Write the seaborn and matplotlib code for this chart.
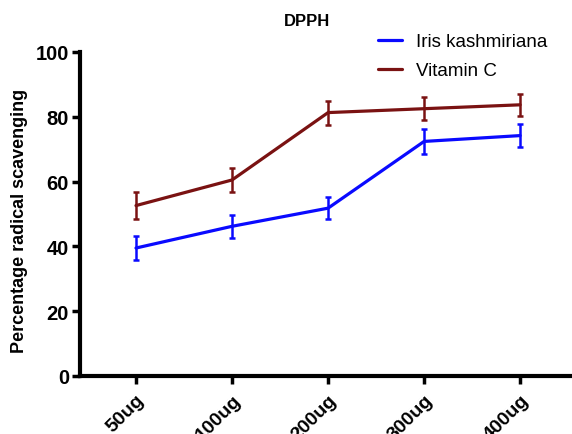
import matplotlib
matplotlib.use("Agg")
import matplotlib.pyplot as plt
import seaborn as sns
import pandas as pd
import numpy as np

categories = ["50ug", "100ug", "200ug", "300ug", "400ug"]
iris = [39.5, 46.2, 51.8, 72.4, 74.2]
iris_err = [3.7, 3.5, 3.3, 3.9, 3.6]
vitc = [52.6, 60.5, 81.3, 82.5, 83.7]
vitc_err = [4.1, 3.6, 3.7, 3.5, 3.3]

sns.set_style("ticks")
plt.rcParams['font.family'] = ['Liberation Sans', 'DejaVu Sans']
plt.rcParams.update({"text.color": "black", "axes.labelcolor": "black",
                     "xtick.color": "black", "ytick.color": "black"})

df = pd.DataFrame({
    "dose": list(range(len(categories))) * 2,
    "value": iris + vitc,
    "series": ["Iris kashmiriana"] * len(categories) + ["Vitamin C"] * len(categories),
})
colors = {"Iris kashmiriana": "#0a0aff", "Vitamin C": "#7a1212"}

fig = plt.figure(figsize=(5.72, 4.35), dpi=100)
ax = fig.add_axes([80/572, 1-377/435, 492/572, 324/435])

sns.lineplot(data=df, x="dose", y="value", hue="series", palette=colors,
             linewidth=2.3, ax=ax, legend=True)
x = np.arange(len(categories))
ax.errorbar(x, iris, yerr=iris_err, fmt="none", ecolor=colors["Iris kashmiriana"],
            elinewidth=1.8, capsize=2.5, capthick=1.8)
ax.errorbar(x, vitc, yerr=vitc_err, fmt="none", ecolor=colors["Vitamin C"],
            elinewidth=1.8, capsize=2.5, capthick=1.8)

ax.set_xlim(-0.583, 4.54)
ax.set_ylim(0, 100)
ax.set_yticks([0, 20, 40, 60, 80, 100])
ax.set_xticks(x)
ax.set_xticklabels(categories, rotation=45, ha="right", va="top", rotation_mode="anchor",
                   fontsize=14, fontweight="bold")
for lab in ax.get_yticklabels():
    lab.set_fontweight("bold")
    lab.set_fontsize(14.5)
ax.tick_params(axis="both", width=2.5, length=6, direction="out", color="black")
ax.tick_params(axis="x", pad=5)
ax.tick_params(axis="y", pad=2)
ax.set_xlabel("")
ax.set_ylabel("Percentage radical scavenging", fontsize=13, fontweight="bold")
ax.yaxis.set_label_coords((28 - 80) / 492, (377 - 221) / 324)
sns.despine(ax=ax)
for sp in ["left", "bottom"]:
    ax.spines[sp].set_linewidth(3)
    ax.spines[sp].set_color("black")

fig.text(307/572, 1-22/435, "DPPH", ha="center", va="center", fontsize=12, fontweight="bold")

leg = ax.legend(loc="upper left", bbox_to_anchor=((378 - 80) / 492, (377 - 34) / 324),
                frameon=False, fontsize=13.5, handlelength=1.3, handletextpad=0.7,
                labelspacing=0.65, borderpad=0, borderaxespad=0)
for line in leg.get_lines():
    line.set_linewidth(2.3)

fig.savefig("out.png", dpi=100)
